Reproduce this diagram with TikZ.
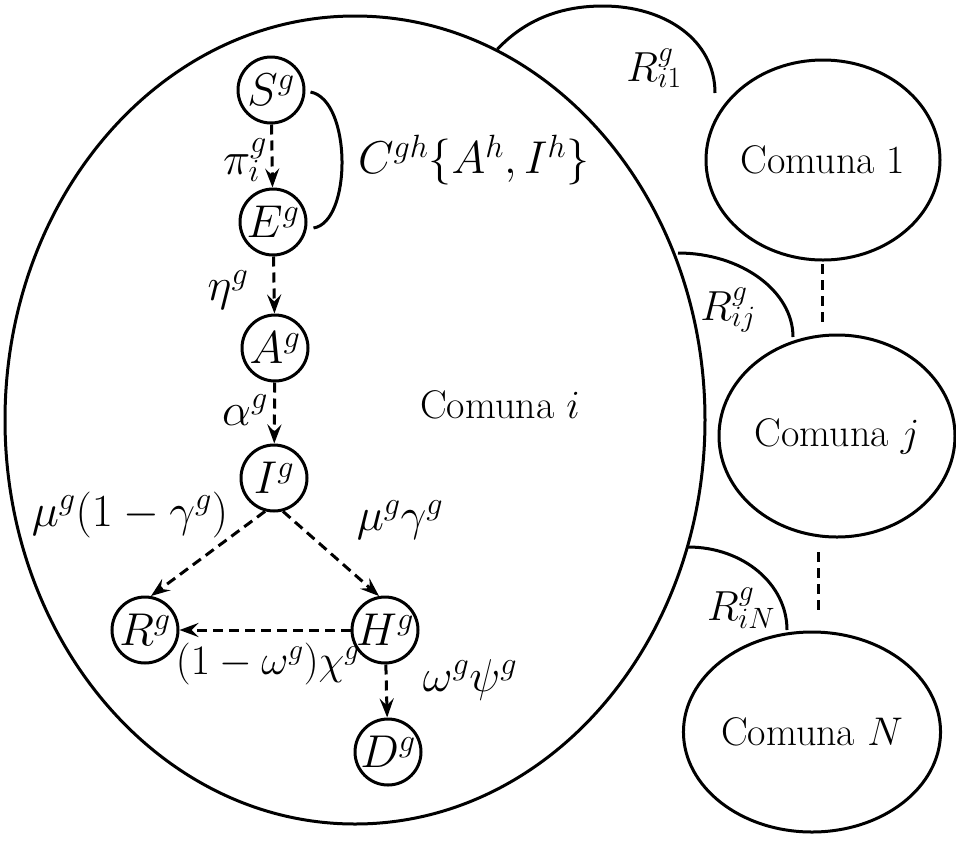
\RequirePackage{fix-cm}
\documentclass[tikz,border=0pt]{standalone}
\usetikzlibrary{shapes.geometric,arrows.meta,calc}
\begin{document}
\begin{tikzpicture}[x=1pt,y=-1pt,
  every node/.style={font=\fontsize{40}{48}\selectfont},
  mathfont/.style={font=\fontsize{46}{54}\selectfont},
  rfont/.style={font=\fontsize{42}{50}\selectfont},
  state/.style={draw, circle, line width=3pt, minimum size=66pt, inner sep=0pt, mathfont},
  region/.style={draw, ellipse, line width=3pt, inner sep=0pt},
  flow/.style={line width=3pt, dash pattern=on 10pt off 6pt, -{Stealth[length=19pt,width=14pt,inset=7pt]}},
  link/.style={line width=3pt},
  gapline/.style={line width=3pt, dash pattern=on 10pt off 6pt},
  lab/.style={inner sep=0pt, mathfont}]
\useasboundingbox (0,0) rectangle (956,844);
% regions
\node[region, minimum width=700pt, minimum height=808pt] (big) at (355,420) {};
\node[region, minimum width=234pt, minimum height=200pt] (c1) at (823,160) {Comuna 1};
\node[region, minimum width=236pt, minimum height=202pt] (cj) at (837,436) {Comuna $j$};
\node[region, minimum width=234pt, minimum height=200pt] (cN) at (812,732) {Comuna $N$};
\node[inner sep=0pt] (ci) at (500,405) {Comuna $i$};
% compartments
\node[state] (S) at (271,90) {$S^g$};
\node[state] (E) at (273,222) {$E^g$};
\node[state] (A) at (275,348) {$A^g$};
\node[state] (I) at (274,478) {$I^g$};
\node[state] (R) at (145,630) {$R^g$};
\node[state] (H) at (385,630) {$H^g$};
\node[state] (D) at (388,752) {$D^g$};
% flows
\draw[flow] (S) -- (E);
\draw[flow] (E) -- (A);
\draw[flow] (A) -- (I);
\draw[flow] (I.255) -- (R.80);
\draw[flow] (I.285) -- (H.100);
\draw[flow] (H) -- (R);
\draw[flow] (H) -- (D);
% contact curve
\coordinate (cs) at ($(S.east)+(5,2)$);
\coordinate (ce) at ($(E.east)+(6,6)$);
\draw[link] (cs) .. controls (352,100) and (352,222) .. (ce);
% links between comunas
\coordinate (g1a) at (822,264);
\coordinate (g1b) at (822,327);
\coordinate (g2a) at (818,552);
\coordinate (g2b) at (818,615);
\draw[gapline] (g1a) -- (g1b);
\draw[gapline] (g2a) -- (g2b);
% R arcs
\coordinate (r1s) at (big.69);
\coordinate (r1e) at (715,93);
\draw[link] (r1s) .. controls (525,20) and (560,6) .. (603,6) .. controls (665,6) and (715,40) .. (r1e);
\coordinate (rjs) at (678,253);
\coordinate (rje) at (793,337);
\draw[link] (rjs) .. controls (741,253) and (793,291) .. (rje);
\coordinate (rNs) at (688,547);
\coordinate (rNe) at (787,630);
\draw[link] (rNs) .. controls (743,547) and (787,584) .. (rNe);
% labels
\node[lab] (lpi) at (245,160) {$\pi_i^g$};
\node[lab, anchor=west] (lC) at (358,160) {$C^{gh}\{A^h,I^h\}$};
\node[lab] (leta) at (228,290) {$\eta^g$};
\node[lab] (lal) at (245,410) {$\alpha^g$};
\node[lab] (lmu1) at (130,515) {$\mu^g(1-\gamma^g)$};
\node[lab] (lmu2) at (400,520) {$\mu^g\gamma^g$};
\node[lab, rfont, anchor=east] (lchi) at (360,664) {$(1-\omega^g)\chi^g$};
\node[lab] (lpsi) at (470,680) {$\omega^g\psi^g$};
\node[lab, rfont] (lr1) at (654,68) {$R_{i1}^g$};
\node[lab, rfont] (lrj) at (728,310) {$R_{ij}^g$};
\node[lab, rfont] (lrN) at (741,608) {$R_{iN}^g$};
\end{tikzpicture}
\end{document}
